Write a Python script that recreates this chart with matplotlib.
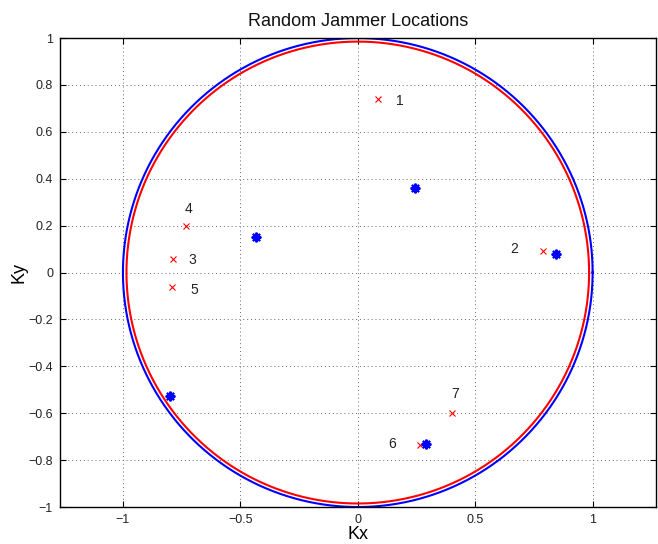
import numpy as np
import matplotlib
matplotlib.use("Agg")
import matplotlib.pyplot as plt

plt.rcParams['font.family'] = ['Liberation Sans', 'DejaVu Sans']

# Jammer locations (red x) with labels
jam_kx = [0.087, 0.787, -0.787, -0.733, -0.790, 0.265, 0.401]
jam_ky = [0.740, 0.093, 0.059, 0.198, -0.060, -0.736, -0.598]
jam_labels = ['1', '2', '3', '4', '5', '6', '7']
label_kx = [0.180, 0.667, -0.706, -0.719, -0.696, 0.147, 0.414]
label_ky = [0.730, 0.099, 0.052, 0.270, -0.075, -0.733, -0.520]

# Estimated locations (blue asterisks)
est_kx = [0.244, -0.434, 0.844, -0.801, 0.289]
est_ky = [0.359, 0.151, 0.078, -0.525, -0.733]

# Circle radii
r_blue = 1.0
r_red = 0.985

fig = plt.figure(figsize=(6.58, 5.44), dpi=100)
ax = fig.add_axes([0.0912, 0.068, 0.9058, 0.862])

th = np.linspace(0, 2 * np.pi, 400)
ax.plot(r_blue * np.cos(th), r_blue * np.sin(th), color='#0000ff', lw=1.5)
ax.plot(r_red * np.cos(th), r_red * np.sin(th), color='#ff0000', lw=1.5)

ax.plot(jam_kx, jam_ky, linestyle='none', marker='x', color='#ff0000',
        markersize=5, markeredgewidth=0.8)
ax.plot(est_kx, est_ky, linestyle='none', marker=(8, 2, 0), color='#0000ff',
        markersize=7, markeredgewidth=1.5)

for x, y, t in zip(label_kx, label_ky, jam_labels):
    ax.text(x, y, t, ha='center', va='center', fontsize=10, color='#222222')

ax.set_xlim(-1.268, 1.270)
ax.set_ylim(-1, 1)
ax.set_xticks([-1, -0.5, 0, 0.5, 1])
ax.set_xticklabels(['\u22121', '\u22120.5', '0', '0.5', '1'])
yt = [-1, -0.8, -0.6, -0.4, -0.2, 0, 0.2, 0.4, 0.6, 0.8, 1]
ax.set_yticks(yt)
ax.set_yticklabels([('\u2212' + f'{abs(v):g}') if v < 0 else f'{v:g}' for v in yt])

ax.grid(True, linestyle=(0, (1, 3)), color='#666666', linewidth=0.7)
ax.tick_params(direction='in', top=True, right=True, labelsize=9,
               length=4, width=0.8, colors='black', labelcolor='#222222', pad=5)
for s in ax.spines.values():
    s.set_linewidth(1.0)

ax.set_title('Random Jammer Locations', fontsize=13, pad=9, color='#111111')
ax.set_xlabel('Kx', fontsize=13, labelpad=0)
ax.set_ylabel('Ky', fontsize=13, labelpad=1)

fig.savefig('out.png', dpi=100)
